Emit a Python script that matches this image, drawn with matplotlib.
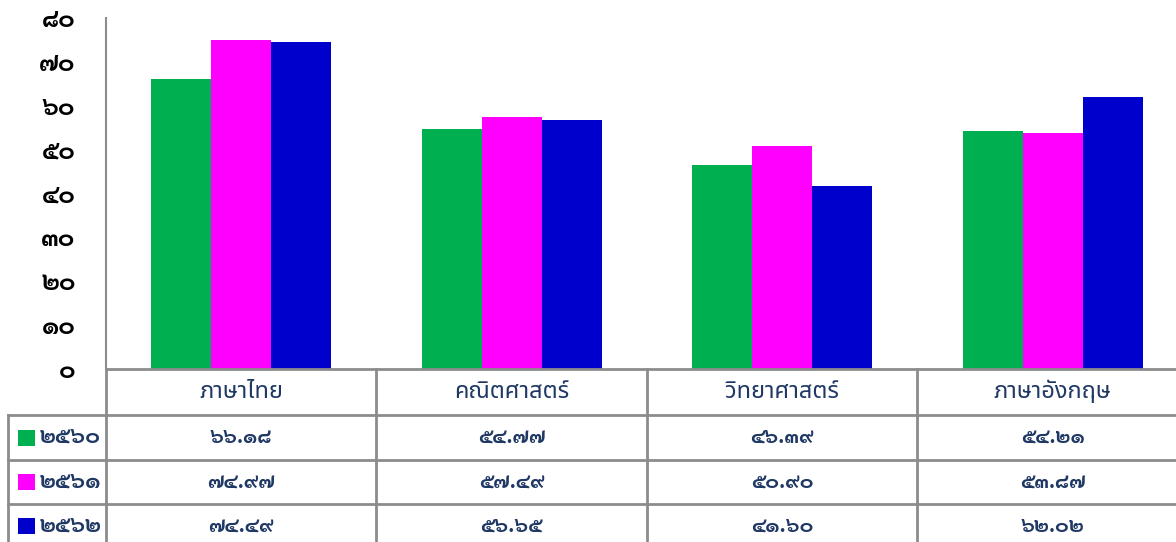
import matplotlib
matplotlib.use("Agg")
import numpy as np
import matplotlib.pyplot as plt
from matplotlib.patches import Rectangle

#----ข้อมูล------------------------------------
subjects = ['ภาษาไทย', 'คณิตศาสตร์', 'วิทยาศาสตร์', 'ภาษาอังกฤษ']
years    = ['2560', '2561', '2562']
y2560    = [66.18, 54.77, 46.39, 54.21]
y2561    = [74.97, 57.49, 50.90, 53.87]
y2562    = [74.49, 56.65, 41.60, 62.02]
yticks   = [0, 10, 20, 30, 40, 50, 60, 70, 80]
colors   = ['#00B050', '#FF00FF', '#0000CC']
#---------------------------------------------

TH = str.maketrans('0123456789', '๐๑๒๓๔๕๖๗๘๙')
def th(s):
    return str(s).translate(TH)

num_font = ['Sarabun', 'DejaVu Sans']
lab_font = ['Noto Sans Thai', 'DejaVu Sans']
navy = '#1F3864'
grid = '#8C8C8C'

# แกนกว้างเกินขอบขวาเล็กน้อย (ภาพต้นฉบับถูกตัด)
ax_w = 1082.0
ax_h = 351.0
fig = plt.figure(figsize=(11.76, 5.42), dpi=100)
ax = fig.add_axes([106/1176, 1-369/542, ax_w/1176, ax_h/542])

series = [y2560, y2561, y2562]
x = np.arange(len(subjects))
w = 0.222
for i, vals in enumerate(series):
    ax.bar(x + (i-1)*w, vals, width=w, color=colors[i], zorder=2)

ax.set_xlim(-0.5, len(subjects)-0.5)
ax.set_ylim(0, 80)
ax.set_yticks(yticks)
ax.set_yticklabels([th(t) for t in yticks], family=num_font, fontweight='bold', fontsize=18)
ax.tick_params(axis='y', length=0, pad=22)
ax.set_xticks([])
for s in ['top', 'right', 'bottom']:
    ax.spines[s].set_visible(False)
ax.spines['left'].set_color(grid)
ax.spines['left'].set_linewidth(1.5)

#----ตาราง (พิกัดแกน) -------------------------
def ty(px):  # แถวพิกเซลใต้แกน -> พิกัดแกน
    return -(px - 369) / ax_h
row_y = [369, 415, 460, 504, 548]
xl = -98/ax_w
lk = dict(transform=ax.transAxes, clip_on=False, color=grid, lw=2)

ax.plot([0, 1], [ty(row_y[0])]*2, **lk)
for r in row_y[1:4]:
    ax.plot([xl, 1], [ty(r)]*2, **lk)
ax.plot([0, 0], [ty(row_y[0]), ty(row_y[-1])], **lk)
ax.plot([xl, xl], [ty(row_y[1]), ty(row_y[-1])], **lk)
for k in range(1, len(subjects)):
    ax.plot([k/len(subjects)]*2, [ty(row_y[0]), ty(row_y[-1])], **lk)

for k, name in enumerate(subjects):
    ax.text((k+0.5)/len(subjects), ty((row_y[0]+row_y[1])/2), name,
            transform=ax.transAxes, ha='center', va='center',
            family=lab_font, fontsize=17, color=navy)

for i, vals in enumerate(series):
    yc = ty((row_y[i+1]+row_y[i+2])/2)
    ax.add_patch(Rectangle((-88/ax_w, yc - 8/ax_h), 17/ax_w, 16/ax_h,
                           transform=ax.transAxes, clip_on=False,
                           facecolor=colors[i], edgecolor='none'))
    ax.text(-66/ax_w, yc, th(years[i]), transform=ax.transAxes,
            ha='left', va='center', family=num_font, fontweight='bold',
            fontsize=16, color=navy)
    for k, v in enumerate(vals):
        ax.text((k+0.5)/len(subjects), yc, th(f'{v:.2f}'),
                transform=ax.transAxes, ha='center', va='center',
                family=num_font, fontweight='bold', fontsize=15, color=navy)

fig.savefig('out.png', dpi=100)
